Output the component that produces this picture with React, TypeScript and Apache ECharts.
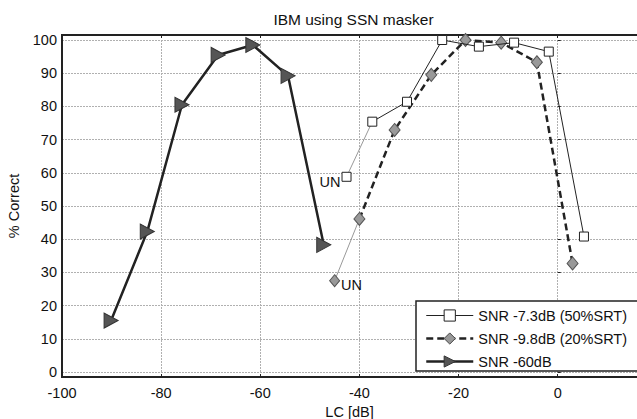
import React, { useEffect, useRef } from "react";
import * as echarts from "echarts";

const xTicks = [-100, -80, -60, -40, -20, 0];
const yTicks = [0, 10, 20, 30, 40, 50, 60, 70, 80, 90, 100];

const snr73Name = "SNR -7.3dB (50%SRT)";
const snr73UN: [number, number] = [-42.6, 58.8];
const snr73: [number, number][] = [
  [-37.4, 75.4],
  [-30.4, 81.4],
  [-23.3, 100],
  [-15.9, 98],
  [-8.8, 99.2],
  [-1.8, 96.5],
  [5.3, 40.8],
];

const snr98Name = "SNR -9.8dB (20%SRT)";
const snr98UN: [number, number] = [-45.0, 27.5];
const snr98: [number, number][] = [
  [-40.0, 46.1],
  [-32.9, 72.9],
  [-25.5, 89.5],
  [-18.6, 100],
  [-11.4, 99.2],
  [-4.2, 93.3],
  [3.0, 32.7],
];

const snr60Name = "SNR -60dB";
const snr60: [number, number][] = [
  [-90.1, 15.5],
  [-82.8, 42.3],
  [-75.8, 80.5],
  [-68.5, 95.5],
  [-61.5, 98.5],
  [-54.4, 89.2],
  [-47.2, 38.3],
];

const FONT = "Liberation Sans, Arial, sans-serif";

export default function App() {
  const ref = useRef<HTMLDivElement>(null);
  useEffect(() => {
    if (!ref.current) return;
    const chart = echarts.init(ref.current, null, { renderer: "svg" });
    const option: any = {
      animation: false,
      backgroundColor: "#ffffff",
      textStyle: { fontFamily: FONT },
      grid: {
        left: 62,
        right: 0,
        top: 40,
        bottom: 419 - 372,
        containLabel: false,
        outerBoundsMode: "none",
      },
      graphic: [
        {
          type: "text",
          x: 353.5,
          y: 19,
          style: {
            text: "IBM using SSN masker",
            font: "15.5px " + FONT,
            fill: "#111",
            align: "center",
            verticalAlign: "middle",
          },
        },
        {
          type: "line",
          shape: { x1: 62, y1: 34, x2: 62, y2: 378 },
          style: { stroke: "#222", lineWidth: 2 },
          z: 10,
        },
        {
          type: "rect",
          shape: { x: 416, y: 301, width: 260, height: 70 },
          style: { fill: "#ffffff", stroke: "#222", lineWidth: 1.5 },
          z: 15,
        },
      ],
      xAxis: [
        {
          type: "value",
          min: -100,
          max: 16,
          interval: 20,
          position: "bottom",
          offset: 5,
          name: "LC [dB]",
          nameLocation: "middle",
          nameGap: 26,
          nameTextStyle: { fontSize: 14.5, color: "#111", fontFamily: FONT },
          axisLine: { show: true, onZero: false, lineStyle: { color: "#222", width: 2 } },
          axisTick: { show: true, inside: true, length: 3, lineStyle: { color: "#222" } },
          axisLabel: {
            show: true,
            showMaxLabel: false,
            margin: 8,
            fontSize: 14.5,
            color: "#111",
            fontFamily: FONT,
            formatter: (v: number) => (xTicks.includes(v) ? String(v) : ""),
          },
          splitLine: { show: true, lineStyle: { color: "#b0b0b0", type: [2, 1], width: 1 } },
        },
        {
          type: "value",
          min: -100,
          max: 16,
          interval: 20,
          position: "top",
          offset: 5,
          axisLine: { show: true, onZero: false, lineStyle: { color: "#222", width: 2 } },
          axisTick: { show: true, inside: true, length: 3, lineStyle: { color: "#222" } },
          axisLabel: { show: false },
          splitLine: { show: false },
        },
      ],
      yAxis: {
        type: "value",
        min: 0,
        max: 100,
        interval: 10,
        name: "% Correct",
        nameLocation: "middle",
        nameGap: 40,
        nameRotate: 90,
        nameTextStyle: { fontSize: 14.5, color: "#111", fontFamily: FONT },
        axisLine: { show: false },
        axisTick: { show: true, inside: true, length: 3, lineStyle: { color: "#222" } },
        axisLabel: {
          margin: 5,
          fontSize: 14.5,
          color: "#111",
          fontFamily: FONT,
          formatter: (v: number) => (yTicks.includes(v) ? String(v) : ""),
        },
        splitLine: { show: true, lineStyle: { color: "#b0b0b0", type: [2, 1], width: 1 } },
      },
      legend: {
        orient: "vertical",
        left: 416,
        top: 301,
        padding: [7, 10, 5, 9],
        itemWidth: 47,
        itemHeight: 14,
        itemGap: 8,
        backgroundColor: "transparent",
        borderWidth: 0,
        textStyle: { fontSize: 14.5, color: "#111", fontFamily: FONT },
        data: [
          {
            name: snr73Name,
            itemStyle: { color: "#ffffff", borderColor: "#222", borderWidth: 1 },
            lineStyle: { color: "#222", width: 1, type: "solid" },
          },
          {
            name: snr98Name,
            itemStyle: { color: "#999", borderColor: "#444", borderWidth: 1 },
            lineStyle: { color: "#222", width: 2.5, type: [7, 4] },
          },
          {
            name: snr60Name,
            itemStyle: { color: "#555", borderColor: "#333", borderWidth: 1 },
            lineStyle: { color: "#222", width: 2.5, type: "solid" },
          },
        ],
        z: 20,
      },
      series: [
        {
          name: "un73",
          type: "line",
          data: [
            {
              value: snr73UN,
              label: {
                show: true,
                position: "left",
                distance: 1,
                offset: [0, 5],
                formatter: "UN",
                fontSize: 14.5,
                color: "#111",
                fontFamily: FONT,
              },
            },
            { value: snr73[0], symbol: "none" },
          ],
          symbol: "rect",
          symbolSize: 9,
          itemStyle: { color: "#ffffff", borderColor: "#222", borderWidth: 1 },
          lineStyle: { color: "#999", width: 1 },
          z: 3,
        },
        {
          name: "un98",
          type: "line",
          data: [
            {
              value: snr98UN,
              label: {
                show: true,
                position: "right",
                distance: 1,
                offset: [0, 4],
                formatter: "UN",
                fontSize: 14.5,
                color: "#111",
                fontFamily: FONT,
              },
            },
            { value: snr98[0], symbol: "none" },
          ],
          symbol: "diamond",
          symbolSize: [10, 12],
          itemStyle: { color: "#999", borderColor: "#555", borderWidth: 1 },
          lineStyle: { color: "#999", width: 1 },
          z: 3,
        },
        {
          name: snr73Name,
          type: "line",
          data: snr73,
          symbol: "rect",
          symbolSize: 9,
          showAllSymbol: true,
          itemStyle: { color: "#ffffff", borderColor: "#222", borderWidth: 1 },
          lineStyle: { color: "#222", width: 1 },
          z: 5,
        },
        {
          name: snr98Name,
          type: "line",
          data: snr98,
          symbol: "diamond",
          symbolSize: [11, 13],
          showAllSymbol: true,
          itemStyle: { color: "#999", borderColor: "#555", borderWidth: 1 },
          lineStyle: { color: "#222", width: 2.5, type: [7, 4] },
          z: 4,
        },
        {
          name: snr60Name,
          type: "line",
          data: snr60,
          symbol: "triangle",
          symbolRotate: -90,
          symbolSize: [15, 14],
          showAllSymbol: true,
          itemStyle: { color: "#555", borderColor: "#333", borderWidth: 1 },
          lineStyle: { color: "#222", width: 2.5 },
          z: 4,
        },
      ],
    };
    chart.setOption(option);
    return () => chart.dispose();
  }, []);
  return <div ref={ref} style={{ width: 637, height: 419, position: "absolute", left: 0, top: 0 }} />;
}
